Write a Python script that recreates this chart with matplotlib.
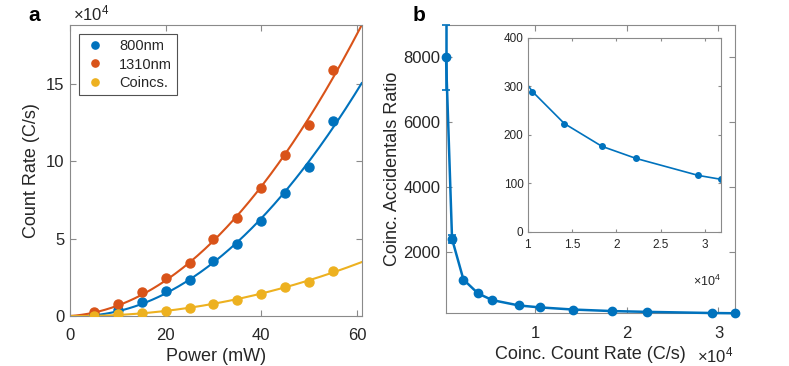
import numpy as np
import matplotlib
matplotlib.use("Agg")
import matplotlib.pyplot as plt

plt.rcParams['font.family'] = ['Liberation Sans', 'DejaVu Sans']
plt.rcParams['mathtext.fontset'] = 'custom'
plt.rcParams['mathtext.rm'] = 'Liberation Sans'
plt.rcParams['mathtext.it'] = 'Liberation Sans'

# ---- Panel a data ----
power_mw = [5, 10, 15, 20, 25, 30, 35, 40, 45, 50, 55]
rate_800 = [0.08, 0.39, 0.93, 1.62, 2.33, 3.58, 4.63, 6.16, 7.97, 9.61, 12.61]   # x1e4 C/s
rate_1310 = [0.28, 0.75, 1.55, 2.48, 3.41, 4.98, 6.31, 8.25, 10.43, 12.31, 15.9]
rate_coinc = [0.02, 0.10, 0.22, 0.34, 0.54, 0.80, 1.06, 1.42, 1.85, 2.22, 2.91]
series_names = ['800nm', '1310nm', 'Coincs.']

# ---- Panel b data ----
coinc_rate = [280, 940, 2180, 3780, 5340, 8250, 10530, 14130, 18370, 22230, 29250, 31800]
car = [8000, 2400, 1149, 718, 513, 348, 289, 223, 176, 151, 116, 108]
car_err = [1000, 120, 0, 0, 0, 0, 0, 0, 0, 0, 0, 0]

blue = '#0072BD'
orange = '#D95319'
yellow = '#EDB120'
edge = '#8a8a8a'
txt = '#262626'

fig = plt.figure(figsize=(7.89, 3.66), dpi=100)

def style(ax, fs=12, xpad=9, ypad=4):
    for s in ax.spines.values():
        s.set_color(edge)
        s.set_linewidth(0.8)
    ax.tick_params(direction='in', top=True, right=True, color=edge,
                   labelcolor=txt, labelsize=fs, length=4, width=0.8)
    ax.tick_params(axis='x', pad=xpad)
    ax.tick_params(axis='y', pad=ypad)

# ---- Panel a ----
axa = fig.add_axes([70/789, 1-316/366, (361.7-70)/789, (316-25)/366])
style(axa)
xs = np.array(power_mw, dtype=float)
xfit = np.linspace(0, 61, 200)
for ys, c, name in zip([rate_800, rate_1310, rate_coinc], [blue, orange, yellow], series_names):
    ys = np.array(ys) * 1e4
    A = np.vstack([xs**2, xs]).T
    coef, *_ = np.linalg.lstsq(A, ys, rcond=None)
    axa.plot(xfit, coef[0]*xfit**2 + coef[1]*xfit, color=c, lw=1.5, zorder=2)
    axa.plot(xs, ys, 'o', color=c, ms=6.5, label=name, zorder=3)
axa.set_xlim(0, 61)
axa.set_ylim(0, 18.8e4)
axa.set_xticks([0, 20, 40, 60])
axa.set_yticks([0, 5e4, 10e4, 15e4])
axa.set_yticklabels(['0', '5', '10', '15'])
axa.set_xlabel('Power (mW)', fontsize=13, color=txt, labelpad=3)
axa.set_ylabel('Count Rate (C/s)', fontsize=13, color=txt, labelpad=4)
fig.text(73/789, 1-20/366, r'$\times10^4$', fontsize=12, color=txt, ha='left', va='baseline')
leg = axa.legend(loc='upper left', bbox_to_anchor=(0.031, 0.969), fontsize=10.5,
                 handletextpad=0.9, handlelength=1.5, borderpad=0.35, borderaxespad=0,
                 labelspacing=0.3, fancybox=False, markerscale=0.8)
leg.get_frame().set_edgecolor(txt)
leg.get_frame().set_linewidth(0.8)
for t in leg.get_texts():
    t.set_color(txt)
fig.text(28/789, 1-21/366, 'a', fontsize=15, fontweight='bold', color='black')

# ---- Panel b ----
axb = fig.add_axes([446/789, 1-313.3/366, (735-446)/789, (313.3-25)/366])
style(axb)
axb.errorbar(coinc_rate, car, yerr=car_err, color=blue, lw=1.8, marker='o',
             ms=6, capsize=3, elinewidth=1.8, capthick=1.2, zorder=3, clip_on=False)
axb.set_xlim(280, 31800)
axb.set_ylim(107, 9000)
axb.set_xticks([1e4, 2e4, 3e4])
axb.set_xticklabels(['1', '2', '3'])
axb.set_yticks([2000, 4000, 6000, 8000])
axb.set_xlabel('Coinc. Count Rate (C/s)', fontsize=13, color=txt, labelpad=4)
axb.set_ylabel('Coinc. Accidentals Ratio', fontsize=13, color=txt, labelpad=2)
fig.text(697/789, 1-362/366, r'$\times10^4$', fontsize=12, color=txt, ha='left', va='baseline')
fig.text(413/789, 1-21/366, 'b', fontsize=15, fontweight='bold', color='black')

# ---- Inset ----
axi = fig.add_axes([527.7/789, 1-231.7/366, (721-527.7)/789, (231.7-37.7)/366])
style(axi, fs=8.5, xpad=5, ypad=3)
axi.plot(coinc_rate, car, color=blue, lw=1.2, marker='o', ms=4)
axi.set_xlim(1e4, 31800)
axi.set_ylim(0, 400)
axi.set_xticks([1e4, 1.5e4, 2e4, 2.5e4, 3e4])
axi.set_xticklabels(['1', '1.5', '2', '2.5', '3'])
axi.set_yticks([0, 100, 200, 300, 400])
axi.tick_params(length=2.5)
fig.text(693/789, 1-286/366, r'$\times10^4$', fontsize=9, color=txt, ha='left', va='baseline')

fig.savefig('out.png', dpi=100, facecolor='white')
